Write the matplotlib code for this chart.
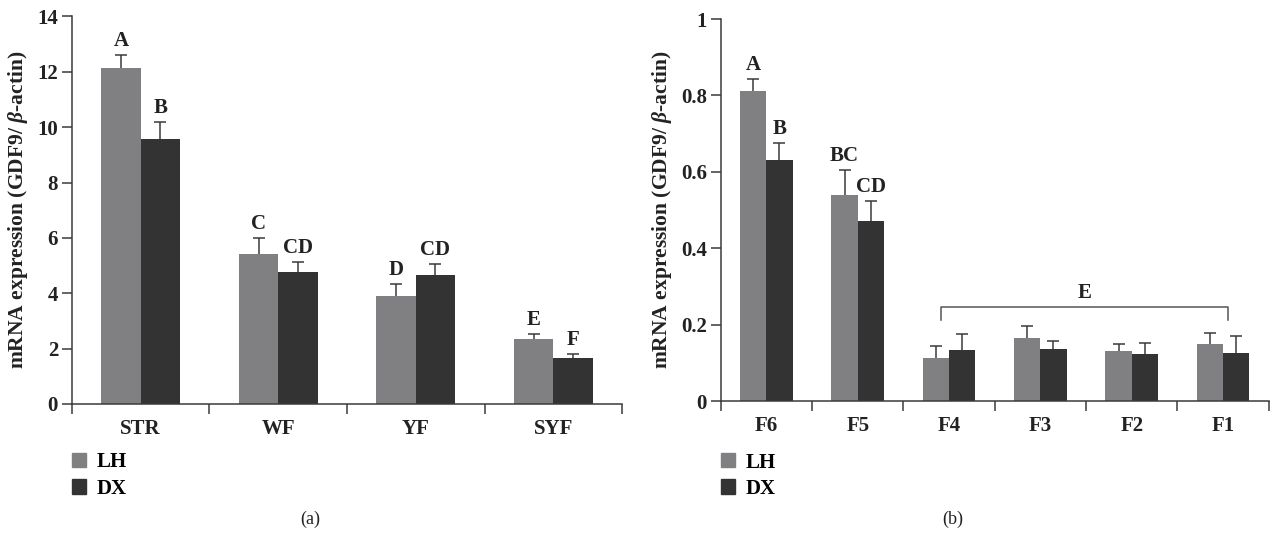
import matplotlib
matplotlib.use("Agg")
import matplotlib.pyplot as plt
from matplotlib.patches import Patch
import numpy as np

plt.rcParams['font.family'] = ['Liberation Serif', 'DejaVu Serif']
plt.rcParams['font.weight'] = 'bold'
plt.rcParams['axes.labelweight'] = 'bold'
plt.rcParams['mathtext.fontset'] = 'custom'
plt.rcParams['mathtext.it'] = 'Liberation Serif:italic:bold'
plt.rcParams['mathtext.rm'] = 'Liberation Serif:bold'

# panel (a)
cats_a = ['STR', 'WF', 'YF', 'SYF']
lh_a = [12.13, 5.42, 3.91, 2.36]
lh_a_err = [0.49, 0.58, 0.41, 0.17]
dx_a = [9.57, 4.77, 4.67, 1.67]
dx_a_err = [0.63, 0.35, 0.37, 0.14]
lh_a_lab = ['A', 'C', 'D', 'E']
dx_a_lab = ['B', 'CD', 'CD', 'F']

# panel (b)
cats_b = ['F6', 'F5', 'F4', 'F3', 'F2', 'F1']
lh_b = [0.812, 0.539, 0.113, 0.165, 0.131, 0.149]
lh_b_err = [0.030, 0.065, 0.032, 0.031, 0.017, 0.028]
dx_b = [0.631, 0.471, 0.134, 0.136, 0.123, 0.126]
dx_b_err = [0.044, 0.053, 0.042, 0.022, 0.028, 0.044]
lh_b_lab = ['A', 'BC', '', '', '', '']
dx_b_lab = ['B', 'CD', '', '', '', '']

LH_COLOR = '#808083'
DX_COLOR = '#333333'
AX_COLOR = '#3a3a3a'
TXT = '#222222'
FS = 15
ylabel = r'mRNA expression (GDF9/ $\beta$-actin)'


def draw_panel(ax, cats, lh, lh_err, dx, dx_err, lh_lab, dx_lab, ymax, yticks, ytl, leg_y):
    n = len(cats)
    x = np.arange(n) + 0.5
    w = 0.287
    ax.bar(x - w / 2, lh, w, color=LH_COLOR, zorder=2)
    ax.bar(x + w / 2, dx, w, color=DX_COLOR, zorder=2)
    for xs, vals, errs in [(x - w / 2, lh, lh_err), (x + w / 2, dx, dx_err)]:
        eb = ax.errorbar(xs, vals, yerr=[np.zeros(n), errs], fmt='none',
                         ecolor=AX_COLOR, elinewidth=1.1, capsize=4.5, capthick=1.1, zorder=3)
        eb[1][0].set_visible(False)  # no cap at the bar top
    for i in range(n):
        if lh_lab[i]:
            ax.annotate(lh_lab[i], (x[i] - w / 2, lh[i] + lh_err[i]), xytext=(0, 3),
                        textcoords='offset points', ha='center', va='bottom',
                        fontsize=FS, color=TXT)
        if dx_lab[i]:
            ax.annotate(dx_lab[i], (x[i] + w / 2, dx[i] + dx_err[i]), xytext=(0, 3),
                        textcoords='offset points', ha='center', va='bottom',
                        fontsize=FS, color=TXT)
    ax.set_xlim(0, n)
    ax.set_ylim(0, ymax)
    ax.set_yticks(yticks)
    ax.set_yticklabels(ytl)
    ax.set_xticks(x)
    ax.set_xticklabels(cats)
    ax.set_xticks(np.arange(n + 1), minor=True)
    ax.tick_params(axis='x', which='major', length=0, pad=11, labelsize=FS, colors=TXT)
    ax.tick_params(axis='x', which='minor', length=7, width=1.1, color=AX_COLOR)
    ax.tick_params(axis='y', length=7, width=1.1, color=AX_COLOR, labelsize=FS,
                   labelcolor=TXT, pad=3)
    for s in ['top', 'right']:
        ax.spines[s].set_visible(False)
    for s in ['left', 'bottom']:
        ax.spines[s].set_color(AX_COLOR)
        ax.spines[s].set_linewidth(1.1)
    ax.set_ylabel(ylabel, fontsize=15.5, color=TXT, labelpad=5)
    handles = [Patch(color=LH_COLOR, label='LH'), Patch(color=DX_COLOR, label='DX')]
    ax.legend(handles=handles, loc='upper left', bbox_to_anchor=(0.0, leg_y),
              frameon=False, fontsize=FS, handlelength=0.68, handleheight=0.68,
              handletextpad=0.5, labelspacing=0.3, borderaxespad=0, borderpad=0)
    return x, w


fig = plt.figure(figsize=(12.72, 5.39), dpi=100)
ax1 = fig.add_axes([0.0566, 0.2505, 0.4324, 0.7189])
ax2 = fig.add_axes([0.5666, 0.256, 0.4308, 0.7087])

draw_panel(ax1, cats_a, lh_a, lh_a_err, dx_a, dx_a_err, lh_a_lab, dx_a_lab,
           14, [0, 2, 4, 6, 8, 10, 12, 14], ['0', '2', '4', '6', '8', '10', '12', '14'], -0.125)
xb, wb = draw_panel(ax2, cats_b, lh_b, lh_b_err, dx_b, dx_b_err, lh_b_lab, dx_b_lab,
                    1, [0, 0.2, 0.4, 0.6, 0.8, 1], ['0', '0.2', '0.4', '0.6', '0.8', '1'], -0.135)

# bracket over F4..F1
bl, br = xb[2] - 0.09, xb[5] + 0.05
ax2.plot([bl, bl, br, br], [0.212, 0.247, 0.247, 0.212], color='#555555', lw=1.1)
ax2.text((bl + br) / 2, 0.256, 'E', ha='center', va='bottom', fontsize=FS, color=TXT)

fig.text(0.2437, 1 - 519 / 539, '(a)', ha='center', va='center', fontsize=13,
         fontweight='normal', color=TXT)
fig.text(0.749, 1 - 519 / 539, '(b)', ha='center', va='center', fontsize=13,
         fontweight='normal', color=TXT)

fig.savefig('out.png', dpi=100)
